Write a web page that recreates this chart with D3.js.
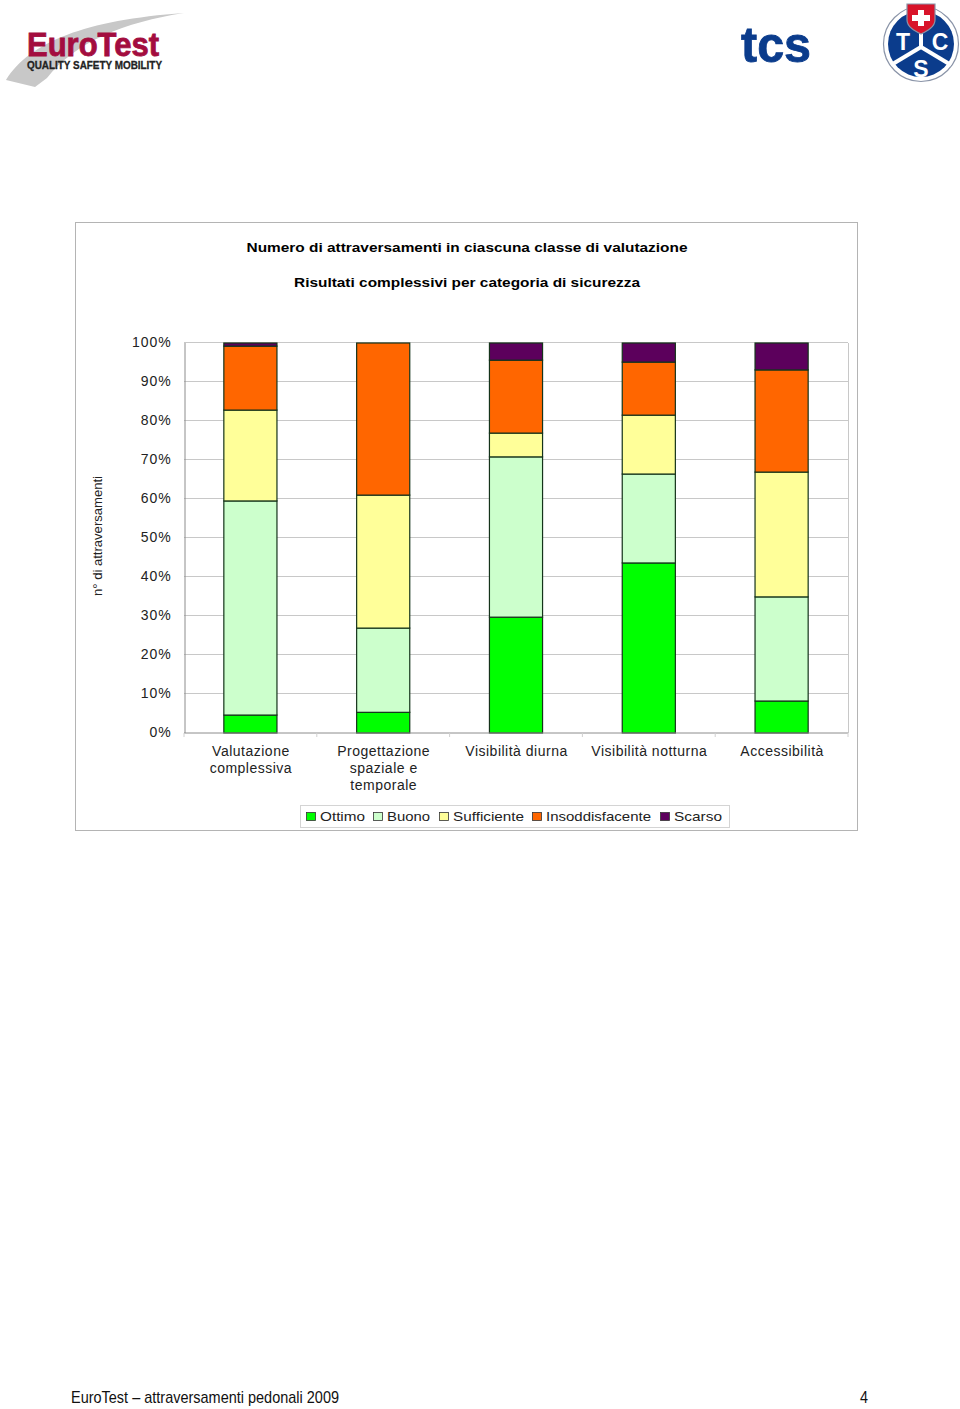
<!DOCTYPE html>
<meta charset="utf-8">
<style>
  body { margin: 0; background: #fff; }
  svg { display: block; }
  text { font-family: "Liberation Sans", Arial, sans-serif; }
</style>
<script src="https://d3js.org/d3.v7.js"></script>
<div id="my_dataviz"></div>
<script>
    // data, percent of crossings
    const categories = ["Valutazione complessiva", "Progettazione spaziale e temporale", "Visibilità diurna", "Visibilità notturna", "Accessibilità"];
    const categoryLines = [["Valutazione", "complessiva"], ["Progettazione", "spaziale e", "temporale"], ["Visibilità diurna"], ["Visibilità notturna"], ["Accessibilità"]];
    const seriesNames = ["Ottimo", "Buono", "Sufficiente", "Insoddisfacente", "Scarso"];
    const seriesColors = ["#00ff00", "#ccffcc", "#ffff99", "#ff6600", "#5c005c"];
    const ottimo = [4.6, 5.3, 29.7, 43.6, 8.2];
    const buono = [54.9, 21.6, 41.1, 22.8, 26.7];
    const sufficiente = [23.3, 34.1, 6.1, 15.1, 32.0];
    const insoddisfacente = [16.4, 39.0, 18.7, 13.6, 26.2];
    const scarso = [0.8, 0, 4.4, 4.9, 6.9];
    const tickValues = [0, 10, 20, 30, 40, 50, 60, 70, 80, 90, 100];

    const svg = d3.select("#my_dataviz").append("svg")
      .attr("width", 960)
      .attr("height", 1409);

    // chart frame
    svg.append("rect")
      .attr("x", 75.5).attr("y", 222.5)
      .attr("width", 782).attr("height", 608)
      .attr("fill", "#fff").attr("stroke", "#b4b4b4");

    // titles
    svg.append("text").attr("x", 467).attr("y", 252)
      .attr("text-anchor", "middle").attr("font-size", 13.5).attr("font-weight", "bold")
      .attr("textLength", 441).attr("lengthAdjust", "spacingAndGlyphs")
      .text("Numero di attraversamenti in ciascuna classe di valutazione");
    svg.append("text").attr("x", 467).attr("y", 287)
      .attr("text-anchor", "middle").attr("font-size", 13.5).attr("font-weight", "bold")
      .attr("textLength", 346).attr("lengthAdjust", "spacingAndGlyphs")
      .text("Risultati complessivi per categoria di sicurezza");

    // scales
    const x = d3.scaleBand().domain(categories).range([184, 848]).paddingInner(0.6).paddingOuter(0.3);
    const y = d3.scaleLinear().domain([0, 100]).range([733, 343]);

    // gridlines and y axis
    svg.append("g").selectAll("line")
      .data(tickValues.filter(d => d > 0))
      .join("line")
      .attr("x1", 184).attr("x2", 848)
      .attr("y1", d => y(d) - 0.5).attr("y2", d => y(d) - 0.5)
      .attr("stroke", "#c8c8c8");
    svg.append("line").attr("x1", 848.5).attr("x2", 848.5).attr("y1", 343).attr("y2", 733).attr("stroke", "#c8c8c8");

    const yAxis = svg.append("g")
      .attr("transform", "translate(184.5,-0.5)")
      .call(d3.axisLeft(y).tickValues(tickValues).tickSize(0).tickPadding(13).tickFormat(d => d + "%"));
    yAxis.select(".domain").attr("stroke", "#8c8c8c");
    yAxis.selectAll("text")
      .attr("font-family", "Liberation Sans").attr("font-size", 14).attr("fill", "#222")
      .attr("letter-spacing", 0.9).attr("dy", "0.3em");

    svg.append("text")
      .attr("transform", "translate(102,536)rotate(-90)")
      .attr("text-anchor", "middle").attr("font-size", 13.5).attr("fill", "#222")
      .attr("textLength", 120).attr("lengthAdjust", "spacingAndGlyphs")
      .text("n° di attraversamenti");

    // stacked bars
    const rows = categories.map((c, i) => ({
      category: c,
      Ottimo: ottimo[i], Buono: buono[i], Sufficiente: sufficiente[i],
      Insoddisfacente: insoddisfacente[i], Scarso: scarso[i]
    }));
    const stacked = d3.stack().keys(seriesNames)(rows);
    const color = d3.scaleOrdinal().domain(seriesNames).range(seriesColors);

    svg.append("g").selectAll("g")
      .data(stacked)
      .join("g")
      .attr("fill", d => color(d.key))
      .selectAll("rect")
      .data(d => d.filter(s => s[1] > s[0]))
      .join("rect")
      .attr("x", d => x(d.data.category))
      .attr("y", d => y(d[1]))
      .attr("width", x.bandwidth())
      .attr("height", d => y(d[0]) - y(d[1]))
      .attr("stroke", "#14331a").attr("stroke-width", 1.2);

    // x axis
    const xAxis = svg.append("g")
      .attr("transform", "translate(0,733)");
    xAxis.append("line").attr("x1", 184).attr("x2", 848).attr("stroke", "#8c8c8c");
    const step = x.step();
    xAxis.selectAll("line.tick")
      .data(d3.range(categories.length + 1))
      .join("line").attr("class", "tick")
      .attr("x1", i => 184 + i * step).attr("x2", i => 184 + i * step)
      .attr("y1", 0).attr("y2", 4).attr("stroke", "#d0d0d0");

    const catLabels = svg.append("g").selectAll("text")
      .data(categories)
      .join("text")
      .attr("x", d => x(d) + x.bandwidth() / 2 + 0.5)
      .attr("text-anchor", "middle").attr("font-size", 14).attr("fill", "#222")
      .attr("letter-spacing", 0.5);
    catLabels.selectAll("tspan")
      .data((d, i) => categoryLines[i].map(line => ({line, cx: x(d) + x.bandwidth() / 2 + 0.5})))
      .join("tspan")
      .attr("x", d => d.cx)
      .attr("y", (d, i) => 756 + i * 16.8)
      .text(d => d.line);

    // legend
    svg.append("rect").attr("x", 300.5).attr("y", 805.5).attr("width", 429).attr("height", 22)
      .attr("fill", "#fff").attr("stroke", "#d4d4d4");
    const legendX = [306, 373, 439, 532, 660];
    const legendTextW = [45, 43, 71, 105, 48];
    const legend = svg.append("g").selectAll("g")
      .data(seriesNames)
      .join("g")
      .attr("transform", (d, i) => `translate(${legendX[i]},812)`);
    legend.append("rect")
      .attr("width", 9).attr("height", 8).attr("y", 0.5).attr("x", 0.5)
      .attr("fill", d => color(d)).attr("stroke", "#333").attr("stroke-width", 0.8);
    legend.append("text")
      .attr("x", 14).attr("y", 9).attr("font-size", 13.5).attr("fill", "#222")
      .attr("textLength", (d, i) => legendTextW[i]).attr("lengthAdjust", "spacingAndGlyphs")
      .text(d => d);

    // footer
    svg.append("text").attr("x", 71).attr("y", 1403)
      .attr("font-size", 17).attr("fill", "#111")
      .attr("textLength", 268).attr("lengthAdjust", "spacingAndGlyphs")
      .text("EuroTest – attraversamenti pedonali 2009");
    svg.append("text").attr("x", 860).attr("y", 1403)
      .attr("font-size", 17).attr("fill", "#111")
      .attr("textLength", 8).attr("lengthAdjust", "spacingAndGlyphs")
      .text("4");

    // EuroTest logo
    const euro = svg.append("g");
    euro.append("path")
      .attr("d", "M6,80 C30,42 85,20 184,13 C125,22 75,42 47,78 L35,87 Z")
      .attr("fill", "#c8c8c8");
    euro.append("text").attr("x", 27).attr("y", 56)
      .attr("font-size", 33).attr("font-weight", "bold").attr("fill", "#a30d3f")
      .attr("stroke", "#a30d3f").attr("stroke-width", 0.8)
      .attr("textLength", 132).attr("lengthAdjust", "spacingAndGlyphs")
      .text("EuroTest");
    euro.append("text").attr("x", 27).attr("y", 69)
      .attr("font-size", 11).attr("font-weight", "bold").attr("fill", "#222")
      .attr("stroke", "#222").attr("stroke-width", 0.3)
      .attr("textLength", 135).attr("lengthAdjust", "spacingAndGlyphs")
      .text("QUALITY SAFETY MOBILITY");

    // tcs wordmark
    svg.append("text").attr("x", 741).attr("y", 62)
      .attr("font-size", 50).attr("font-weight", "bold").attr("fill", "#0b3c8c")
      .attr("font-family", "Open Sans")
      .attr("stroke", "#0b3c8c").attr("stroke-width", 0.8)
      .attr("textLength", 70).attr("lengthAdjust", "spacingAndGlyphs")
      .text("tcs");

    // TCS badge
    const badge = svg.append("g").attr("transform", "translate(921,44)");
    badge.append("circle").attr("r", 37.5).attr("fill", "#fff").attr("stroke", "#8a94a8").attr("stroke-width", 1.2);
    badge.append("circle").attr("r", 33).attr("fill", "#0b3c8c");
    badge.selectAll("line.spoke")
      .data([[0, 3, 0, -14], [0, 3, -30, 21], [0, 3, 30, 21]])
      .join("line").attr("class", "spoke")
      .attr("x1", d => d[0]).attr("y1", d => d[1]).attr("x2", d => d[2]).attr("y2", d => d[3])
      .attr("stroke", "#fff").attr("stroke-width", 4);
    badge.append("path")
      .attr("d", "M-14,-40 L14,-40 L14,-24 C14,-17 6,-13 0,-10 C-6,-13 -14,-17 -14,-24 Z")
      .attr("fill", "#d8142a").attr("stroke", "#8a94a8").attr("stroke-width", 1.2);
    badge.append("path")
      .attr("d", "M-3,-34 H3 V-29 H9 V-23 H3 V-18 H-3 V-23 H-9 V-29 H-3 Z")
      .attr("fill", "#fff");
    badge.selectAll("text.letter")
      .data([["T", -18, 6], ["C", 19, 6], ["S", 0, 33]])
      .join("text").attr("class", "letter")
      .attr("x", d => d[1]).attr("y", d => d[2])
      .attr("text-anchor", "middle").attr("font-size", 23).attr("font-weight", "bold").attr("fill", "#fff")
      .text(d => d[0]);
</script>
